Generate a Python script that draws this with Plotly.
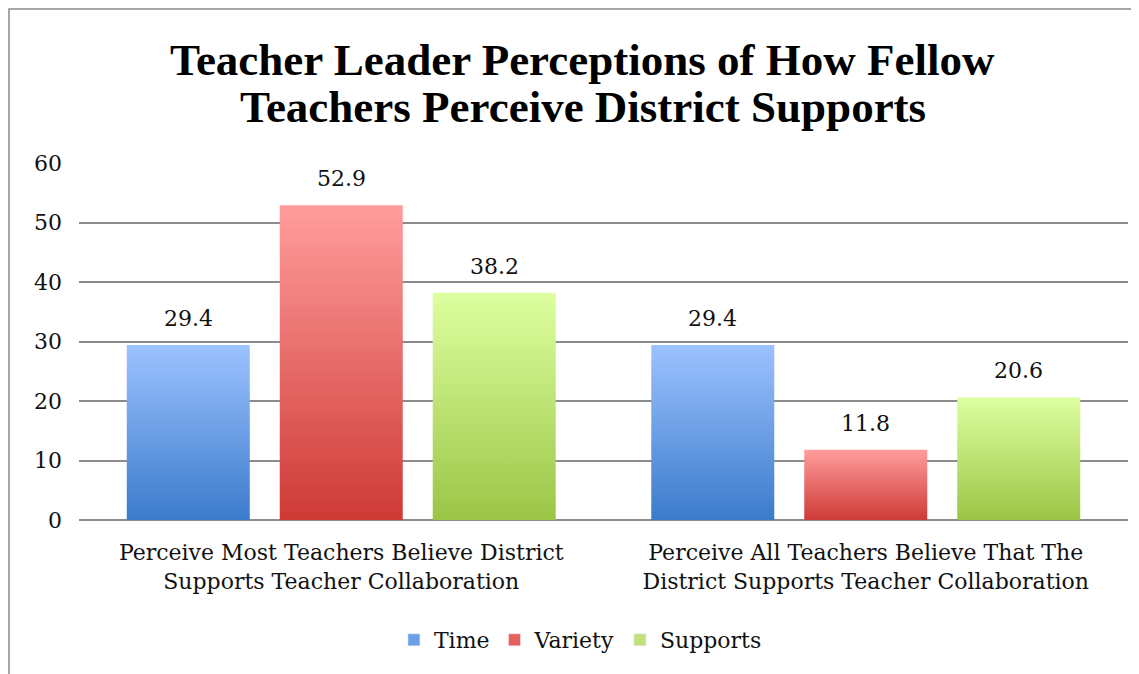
import plotly.graph_objects as go

# chart data
categories = [
    "Perceive Most Teachers Believe District<br>Supports Teacher Collaboration",
    "Perceive All Teachers Believe That The<br>District Supports Teacher Collaboration",
]
series_names = ["Time", "Variety", "Supports"]
time_vals = [29.4, 29.4]
variety_vals = [52.9, 11.8]
supports_vals = [38.2, 20.6]

# bottom / top colours of each series' gradient
grad_colors = {
    "Time": ("#3b7bcb", "#9cc2ff"),
    "Variety": ("#ce3a36", "#ff9d9c"),
    "Supports": ("#9cc546", "#ddffa0"),
}
legend_colors = {"Time": "#6b9fe6", "Variety": "#e8605d", "Supports": "#c0e27a"}

FONT = "DejaVu Serif"
TITLE_FONT = "Liberation Serif"
bargap = 0.125
groupgap = 0.196

# the page adds an 8px body margin, so the figure is laid out 8px smaller
W, H = 1131, 666
L, R, T, B = 71, 11, 155, 154
plot_h = H - T - B

fig = go.Figure()

all_series = [time_vals, variety_vals, supports_vals]
n = len(all_series)
slot = (1 - bargap) / n
half_w = slot * (1 - groupgap) / 2

annotations = []
for s, (name, vals) in enumerate(zip(series_names, all_series)):
    lo, hi = grad_colors[name]
    for c, v in enumerate(vals):
        xc = c + (s - (n - 1) / 2) * slot
        fig.add_trace(go.Scatter(
            x=[xc - half_w, xc + half_w, xc + half_w, xc - half_w, xc - half_w],
            y=[0, 0, v, v, 0],
            mode="lines",
            line=dict(width=0),
            fill="toself",
            fillgradient=dict(type="vertical", start=0, stop=v,
                              colorscale=[[0, lo], [1, hi]]),
            name=name,
            showlegend=False,
            hoverinfo="skip",
        ))
        annotations.append(dict(
            x=xc, y=v, xref="x", yref="y", text=f"{v:.1f}",
            showarrow=False, yanchor="bottom", yshift=12,
            font=dict(family=FONT, size=22, color="#111"),
        ))
    # empty bar trace just for the square legend swatch
    fig.add_trace(go.Bar(x=[None], y=[None], name=name,
                         marker=dict(color=legend_colors[name])))

title_lines = ["Teacher Leader Perceptions of How Fellow",
               "Teachers Perceive District Supports"]
for i, line in enumerate(title_lines):
    fig_y = 52 + 47 * i
    annotations.append(dict(
        x=0.48, xref="paper", xanchor="center",
        y=(H - B - fig_y) / plot_h, yref="paper", yanchor="middle",
        text=f"<b>{line}</b>", showarrow=False,
        font=dict(family=TITLE_FONT, size=45, color="black"),
    ))

fig.update_layout(
    width=W,
    height=H,
    paper_bgcolor="white",
    plot_bgcolor="white",
    margin=dict(l=L, r=R, t=T, b=B),
    font=dict(family=FONT, size=22, color="#111"),
    annotations=annotations,
    legend=dict(
        orientation="h", x=0.478, xanchor="center", y=-120 / plot_h, yanchor="middle",
        font=dict(family=FONT, size=22), itemwidth=30,
    ),
    xaxis=dict(
        range=[-0.5, 1.5],
        tickvals=[0, 1],
        ticktext=categories,
        showgrid=False,
        zeroline=False,
        showline=False,
        ticks="",
        ticklabelstandoff=17,
        tickfont=dict(family=FONT, size=22),
        fixedrange=True,
    ),
    yaxis=dict(
        range=[0, 60],
        dtick=10,
        showgrid=True,
        gridcolor="#8c8c8c",
        gridwidth=1.5,
        zeroline=True,
        zerolinecolor="#8c8c8c",
        zerolinewidth=1.5,
        ticks="",
        ticklabelstandoff=16,
        tickfont=dict(family=FONT, size=22),
    ),
    shapes=[dict(
        type="rect", xref="paper", yref="paper",
        x0=(1 - L) / (W - L - R), x1=1.2, y0=-1, y1=(H - 1 - B) / plot_h,
        line=dict(color="#8a8a8a", width=1.5), fillcolor="rgba(0,0,0,0)",
        layer="below",
    )],
)

fig.write_html("out.html")
